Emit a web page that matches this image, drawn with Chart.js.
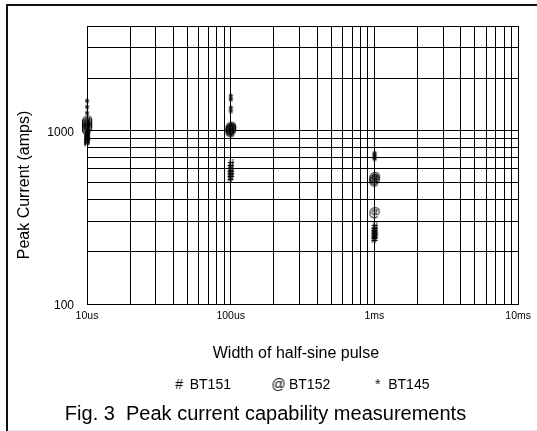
<!DOCTYPE html>
<html lang="en">
<head>
<meta charset="UTF-8">
<title>Peak current capability measurements</title>
<script src="https://cdn.jsdelivr.net/npm/chart.js"></script>
<style>
  html, body { margin: 0; padding: 0; background: #fff; }
  canvas { display: block; }
</style>
</head>
<body>
<canvas id="peakChart" width="537" height="431"></canvas>
<script>
// pulse width in microseconds, peak current in amps
const bt151Width   = [10, 10, 10, 10, 10, 10, 100, 100, 100, 100, 100, 100, 1000, 1000, 1000, 1000, 1000, 1000];
const bt151Current = [975, 950, 925, 900, 880, 865, 650, 625, 600, 580, 560, 540, 282, 272, 263, 255, 247, 240];

const bt152Width   = [10, 10, 10, 10, 10, 100, 100, 100, 100, 100, 1000, 1000, 1000, 1000];
const bt152Current = [1140, 1110, 1080, 1050, 1025, 1050, 1035, 1020, 1005, 990, 540, 527, 515, 338];

const bt145Width   = [10, 10, 10, 100, 100, 100, 100, 1000, 1000, 1000, 1000];
const bt145Current = [1490, 1375, 1270, 1590, 1520, 1360, 1300, 745, 725, 705, 690];

// grid lines and tick labels
const xGridTicks = [10, 20, 30, 40, 50, 60, 70, 80, 90,
	100, 200, 300, 400, 500, 600, 700, 800, 900,
	1000, 2000, 3000, 4000, 5000, 6000, 7000, 8000, 9000, 10000];
const yGridTicks = [100, 200, 300, 400, 500, 600, 700, 800, 900, 1000, 2000, 3000, 4000];
const xTickLabels = { 10: '10us', 100: '100us', 1000: '1ms', 10000: '10ms' };
const yTickLabels = { 100: '100', 1000: '1000' };

const FONT = '"Liberation Sans", Arial, Helvetica, sans-serif';
Chart.defaults.font.family = FONT;
Chart.defaults.color = '#000';

// text characters used as point markers
// centered = true puts the ink in the middle (plot marks), false keeps the text baseline (legend)
function glyph(ch, font, size, centered) {
	const c = document.createElement('canvas');
	c.width = size + 6;
	c.height = size + 6;
	const g = c.getContext('2d');
	g.font = font + ' ' + size + 'px ' + FONT;
	g.fillStyle = '#000';
	g.textAlign = 'center';
	if (centered) {
		g.textBaseline = 'alphabetic';
		const m = g.measureText(ch);
		const h = m.actualBoundingBoxAscent + m.actualBoundingBoxDescent;
		g.fillText(ch, c.width / 2, c.height / 2 + h / 2 - m.actualBoundingBoxDescent);
	} else {
		g.textBaseline = 'middle';
		g.fillText(ch, c.width / 2, c.height / 2);
	}
	return c;
}

function points(xs, ys) {
	return xs.map((x, i) => ({ x: x, y: ys[i] }));
}

const framePlugin = {
	id: 'frame',
	beforeDraw(chart) {
		const ctx = chart.ctx;
		ctx.save();
		ctx.fillStyle = '#fff';
		ctx.fillRect(0, 0, chart.width, chart.height);
		ctx.fillStyle = '#111';
		ctx.fillRect(6, 4, chart.width - 6, 2);
		ctx.fillRect(6, 4, 2, chart.height - 4);
		ctx.fillStyle = '#e8e8e8';
		ctx.fillRect(8, chart.height - 1, chart.width - 8, 1);
		ctx.restore();
	}
};

const markerSize = 12;
const legendSize = 14;
const legendGlyphs = ['#', '@', '*'].map(ch => glyph(ch, 'normal', legendSize, false));

new Chart(document.getElementById('peakChart'), {
	type: 'scatter',
	data: {
		datasets: [{
			label: 'BT151',
			data: points(bt151Width, bt151Current),
			pointStyle: glyph('#', 'bold', markerSize, true),
			clip: false
		}, {
			label: 'BT152',
			data: points(bt152Width, bt152Current),
			pointStyle: glyph('@', 'bold', markerSize, true),
			clip: false
		}, {
			label: 'BT145',
			data: points(bt145Width, bt145Current),
			pointStyle: glyph('*', 'bold', markerSize, true),
			clip: false
		}]
	},
	options: {
		responsive: false,
		animation: false,
		events: [],
		layout: { padding: { top: 26, right: 16, bottom: 3, left: 10 } },
		scales: {
			x: {
				type: 'logarithmic',
				min: 10,
				max: 10000,
				afterBuildTicks: s => { s.ticks = xGridTicks.map(v => ({ value: v })); },
				afterFit: s => { s.height = 30; },
				grid: { color: '#000', lineWidth: 1, drawTicks: false },
				border: { color: '#000', width: 1 },
				ticks: {
					autoSkip: false,
					maxRotation: 0,
					padding: 6,
					font: { size: 10.5 },
					callback: v => xTickLabels[v] || ''
				},
				title: {
					display: true,
					text: 'Width of half-sine pulse   ',
					font: { size: 16 },
					padding: { top: 0, bottom: -29.6 }
				}
			},
			y: {
				type: 'logarithmic',
				min: 100,
				max: 4000,
				afterBuildTicks: s => { s.ticks = yGridTicks.map(v => ({ value: v })); },
				afterFit: s => { s.width = 77; },
				grid: { color: '#000', lineWidth: 1, drawTicks: false },
				border: { color: '#000', width: 1 },
				ticks: {
					autoSkip: false,
					padding: 13,
					labelOffset: 2,
					font: { size: 12 },
					callback: v => yTickLabels[v] || ''
				},
				title: {
					display: true,
					text: 'Peak Current (amps)         ',
					font: { size: 16 },
					padding: { top: 5.4, bottom: 0 }
				}
			}
		},
		plugins: {
			tooltip: { enabled: false },
			legend: {
				position: 'bottom',
				fullSize: false,
				maxHeight: 66,
				labels: {
					usePointStyle: true,
					boxWidth: 7,
					padding: 44,
					font: { size: legendSize },
					generateLabels: chart => {
						const items = Chart.defaults.plugins.legend.labels.generateLabels(chart);
						items.forEach((it, i) => { it.pointStyle = legendGlyphs[i]; });
						return items;
					}
				}
			},
			title: {
				display: true,
				position: 'bottom',
				text: 'Fig. 3  Peak current capability measurements',
				font: { size: 20, weight: 'normal' },
				padding: { top: 2, bottom: 2 }
			}
		}
	},
	plugins: [framePlugin]
});
</script>
</body>
</html>
